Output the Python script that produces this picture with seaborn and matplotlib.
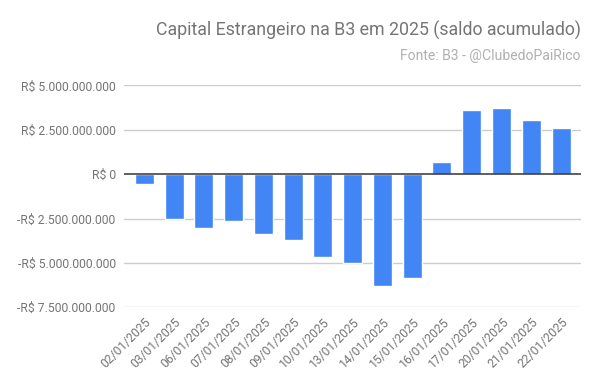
import matplotlib
matplotlib.use("Agg")
import matplotlib.pyplot as plt
import matplotlib.transforms as mtransforms
import seaborn as sns
import pandas as pd
from matplotlib.ticker import FuncFormatter

dates = ["02/01/2025", "03/01/2025", "06/01/2025", "07/01/2025", "08/01/2025",
         "09/01/2025", "10/01/2025", "13/01/2025", "14/01/2025", "15/01/2025",
         "16/01/2025", "17/01/2025", "20/01/2025", "21/01/2025", "22/01/2025"]
saldo = [-0.53e9, -2.52e9, -3.02e9, -2.63e9, -3.36e9,
         -3.70e9, -4.65e9, -4.99e9, -6.29e9, -5.84e9,
         0.68e9, 3.60e9, 3.72e9, 3.04e9, 2.59e9]
yticks = [-7.5e9, -5e9, -2.5e9, 0, 2.5e9, 5e9]
title = "Capital Estrangeiro na B3 em 2025 (saldo acumulado)"
subtitle = "Fonte: B3 - @ClubedoPaiRico"

sns.set_theme(style="white")
plt.rcParams['font.family'] = ['Roboto', 'DejaVu Sans']

df = pd.DataFrame({"data": dates, "saldo": saldo})

fig = plt.figure(figsize=(6, 3.85), dpi=100)
ax = fig.add_axes([0.2067, 0.2018, 0.7616, 0.5766])

sns.barplot(data=df, x="data", y="saldo", color="#4285F4", saturation=1,
            width=0.64, ax=ax, zorder=3)

ax.set_ylim(-7.5e9, 5e9)
ax.set_xlim(-0.68, len(dates) - 1 + 0.67)
ax.set_yticks(yticks)

def fmt(v, pos):
    s = f"{abs(v):,.0f}".replace(",", ".")
    return ("-R$ " if v < 0 else "R$ ") + s

ax.yaxis.set_major_formatter(FuncFormatter(fmt))
for y in yticks:
    if y == 0:
        ax.axhline(0, color="#333333", lw=1.1, zorder=4)
    else:
        ax.axhline(y, color="#cccccc", lw=1, zorder=1)

for s in ax.spines.values():
    s.set_visible(False)
ax.set_xlabel("")
ax.set_ylabel("")
ax.tick_params(axis="both", length=0, colors="#757575", labelsize=8.7)
ax.tick_params(axis="y", pad=6)
ax.tick_params(axis="x", pad=9)
offset = mtransforms.ScaledTranslation(0.05, 0, fig.dpi_scale_trans)
for lbl in ax.get_xticklabels():
    lbl.set_rotation(45)
    lbl.set_ha("right")
    lbl.set_va("center")
    lbl.set_rotation_mode("anchor")
    lbl.set_transform(lbl.get_transform() + offset)

fig.text(0.968, 0.922, title, ha="right", va="center", fontsize=12.8,
         color="#757575")
fig.text(0.968, 0.855, subtitle, ha="right", va="center", fontsize=10.1,
         color="#b0b0b0")

fig.savefig("out.png", dpi=100, facecolor="white")
